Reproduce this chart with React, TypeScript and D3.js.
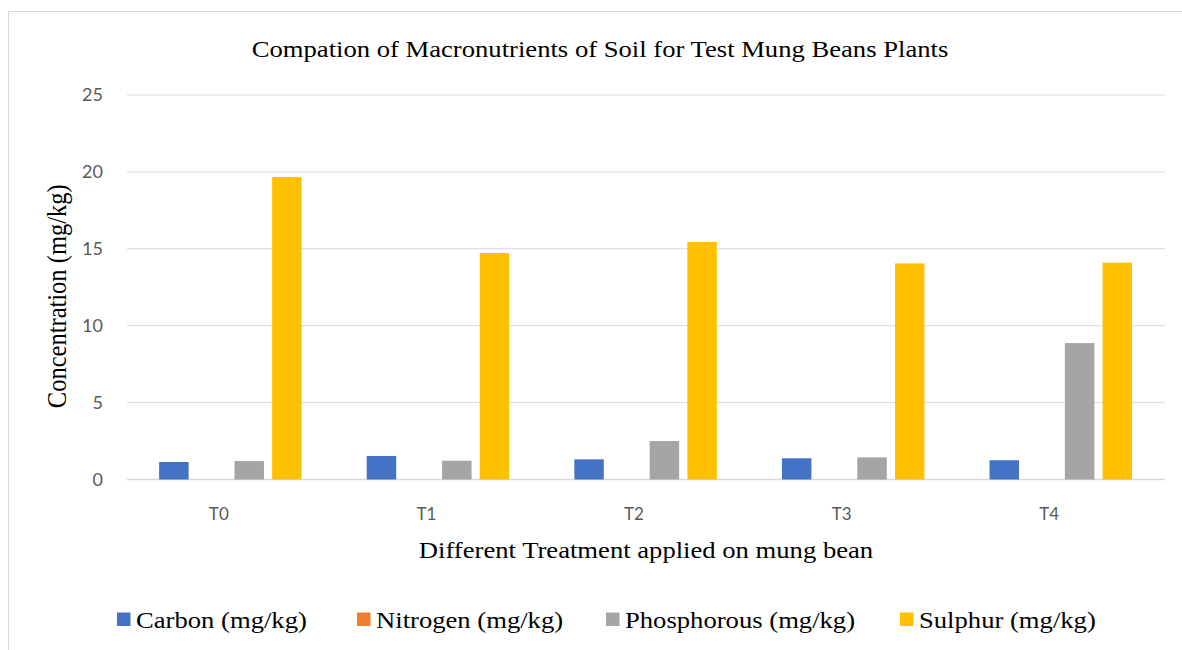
import React, { useEffect, useRef } from 'react';
import * as d3 from 'd3';

const treatments = ['T0', 'T1', 'T2', 'T3', 'T4'];
const seriesNames = ['Carbon (mg/kg)', 'Nitrogen (mg/kg)', 'Phosphorous (mg/kg)', 'Sulphur (mg/kg)'];
const carbon = [1.14, 1.53, 1.31, 1.38, 1.25];
const nitrogen = [0, 0, 0, 0, 0];
const phosphorous = [1.2, 1.22, 2.5, 1.44, 8.87];
const sulphur = [19.67, 14.73, 15.44, 14.05, 14.1];
const colors = ['#4472C4', '#ED7D31', '#A5A5A5', '#FFC000'];
const yTicks = [0, 5, 10, 15, 20, 25];

const W = 1182;
const H = 650;

export default function App() {
  const ref = useRef<SVGSVGElement>(null);

  useEffect(() => {
    const svg = d3.select(ref.current);
    svg.selectAll('*').remove();

    const values = [carbon, nitrogen, phosphorous, sulphur];
    const left = 127, right = 1165, top = 95, bottom = 479.5;
    const serif = '"Liberation Serif", "Times New Roman", serif';
    const sx = 1.11; // text in the picture is a bit wider than tall

    // chart frame (cut off at right and bottom)
    svg.append('path')
      .attr('d', `M8.5,${H} L8.5,11.5 L${W},11.5`)
      .attr('fill', 'none')
      .attr('stroke', '#D9D9D9')
      .attr('stroke-width', 1);

    const x = d3.scaleBand().domain(treatments).range([left, right]);
    const bw = x.bandwidth();
    const x1 = d3.scaleBand<number>()
      .domain(d3.range(seriesNames.length))
      .range([bw * 0.135, bw * 0.861])
      .paddingInner(0.2175)
      .paddingOuter(0.10875);
    const y = d3.scaleLinear().domain([0, 25]).range([bottom, top]);

    const grid = svg.append('g');
    grid.selectAll('line')
      .data(yTicks)
      .join('line')
      .attr('x1', left)
      .attr('x2', right)
      .attr('y1', d => y(d))
      .attr('y2', d => y(d))
      .attr('stroke', '#D9D9D9')
      .attr('stroke-width', d => (d === 0 ? 1.5 : 1));

    grid.selectAll('text')
      .data(yTicks)
      .join('text')
      .attr('x', 103)
      .attr('y', d => y(d))
      .attr('dy', '0.35em')
      .attr('text-anchor', 'end')
      .attr('fill', '#595959')
      .style('font-family', 'Lato, "Open Sans", sans-serif')
      .style('font-size', '18px')
      .text(d => d);

    const groups = svg.append('g')
      .selectAll('g')
      .data(treatments)
      .join('g')
      .attr('transform', d => `translate(${x(d)},0)`);

    groups.selectAll('rect')
      .data((_, i) => values.map((s, k) => ({ k, v: s[i] })))
      .join('rect')
      .attr('x', d => x1(d.k)!)
      .attr('width', x1.bandwidth())
      .attr('y', d => y(d.v))
      .attr('height', d => y(0) - y(d.v))
      .attr('fill', d => colors[d.k]);

    svg.append('g')
      .selectAll('text')
      .data(treatments)
      .join('text')
      .attr('x', d => x(d)! + bw / 2 - 12)
      .attr('y', 520)
      .attr('text-anchor', 'middle')
      .attr('fill', '#595959')
      .style('font-family', 'Lato, "Open Sans", sans-serif')
      .style('font-size', '17px')
      .text(d => d);

    const hText = (tx: number, ty: number, anchor: string, label: string) =>
      svg.append('text')
        .attr('transform', `translate(${tx},${ty}) scale(${sx},1)`)
        .attr('text-anchor', anchor)
        .style('font-family', serif)
        .style('font-size', '24px')
        .text(label);

    hText(600, 57, 'middle', 'Compation of Macronutrients of Soil for Test Mung Beans Plants');
    hText(646, 558, 'middle', 'Different Treatment applied on mung bean');

    svg.append('text')
      .attr('transform', `translate(66,${(top + bottom) / 2 + 9}) rotate(-90) scale(1,${sx})`)
      .attr('text-anchor', 'middle')
      .style('font-family', serif)
      .style('font-size', '24.5px')
      .text('Concentration (mg/kg)');

    const legendX = [117, 357, 606, 900];
    const legend = svg.append('g')
      .selectAll('g')
      .data(seriesNames)
      .join('g')
      .attr('transform', (_, i) => `translate(${legendX[i]},612.5)`);
    legend.append('rect')
      .attr('width', 13.5)
      .attr('height', 13.5)
      .attr('fill', (_, i) => colors[i]);
    legend.append('text')
      .attr('transform', `translate(19,15) scale(${sx},1)`)
      .style('font-family', serif)
      .style('font-size', '24px')
      .text(d => d);
  }, []);

  return (
    <svg
      ref={ref}
      width={W}
      height={H}
      style={{ position: 'absolute', left: 0, top: 0, background: '#fff' }}
    />
  );
}
